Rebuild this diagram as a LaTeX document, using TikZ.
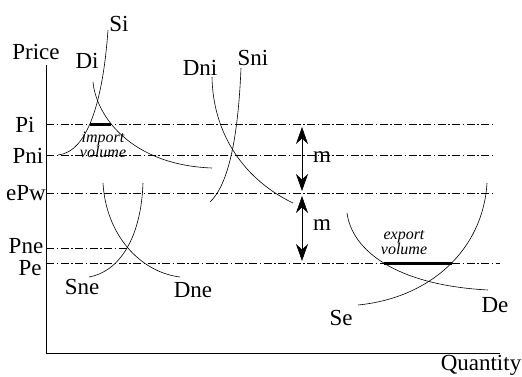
\documentclass[tikz,border=0pt]{standalone}
\usepackage{fontspec}
\setmainfont{Liberation Serif}
\usetikzlibrary{arrows.meta}

\tikzset{
  lvl/.style={line width=0.8pt, dash pattern=on 8pt off 2.5pt on 1.5pt off 2.5pt},
  curve/.style={line width=0.6pt},
  vol/.style={line width=3pt},
  lab/.style={font=\fontsize{23}{26}\selectfont, inner sep=0pt},
  note/.style={font=\fontsize{16}{16}\selectfont\itshape, align=center, inner sep=0pt},
  gap/.style={line width=0.6pt, {Stealth[length=17pt,width=12pt]}-{Stealth[length=17pt,width=12pt]}}
}

\begin{document}
\begin{tikzpicture}[x=1pt, y=-1pt]
\useasboundingbox (0,0) rectangle (522,376);

% axes
\coordinate (o) at (46,353);
\coordinate (ytop) at (46,65);
\coordinate (xend) at (500,353);
\draw[line width=0.8pt] (ytop) -- (o) -- (xend);
\node[lab] (price) at (36,52) {Price};
\node[lab] (qty) at (481,365) {Quantity};

% price levels
\draw[lvl] (46,124) -- (495,124);
\draw[lvl] (46,155) -- (495,155);
\draw[lvl] (46,193) -- (495,193);
\draw[lvl] (46,248) -- (127,248);
\draw[lvl] (46,263) -- (500,263);
\node[lab] (pi) at (25,125) {Pi};
\node[lab] (pni) at (28,156) {Pni};
\node[lab] (epw) at (26,193) {ePw};
\node[lab] (pne) at (26,246) {Pne};
\node[lab] (pe) at (30,268) {Pe};

% importer
\draw[curve] (58,155) .. controls (88,152) and (103,100) .. (108,30);
\draw[curve] (93,82) .. controls (96,115) and (130,165) .. (212,168);
\draw[vol] (90,124) -- (111,124);
\node[lab] (si) at (119,24) {Si};
\node[lab] (di) at (87,61) {Di};
\node[note] (imp) at (103,145) {import\\[-1pt]volume};

% non-importer
\draw[curve] (212,77) .. controls (213,135) and (245,180) .. (293,203);
\draw[curve] (210,202) .. controls (228,185) and (238,140) .. (241,68);
\node[lab] (dni) at (200,68) {Dni};
\node[lab] (sni) at (253,58) {Sni};

% non-exporter
\draw[curve] (103,183) .. controls (106,235) and (140,272) .. (180,277);
\draw[curve] (89,277) .. controls (118,272) and (141,240) .. (143,183);
\node[lab] (sne) at (82,287) {Sne};
\node[lab] (dne) at (193,290) {Dne};

% exporter
\draw[curve] (347,213) .. controls (352,250) and (395,285) .. (488,290);
\draw[curve] (358,305) .. controls (430,298) and (483,250) .. (487,183);
\draw[vol] (384,263) -- (452,263);
\node[lab] (se) at (341,318) {Se};
\node[lab] (de) at (495,305) {De};
\node[note] (exp) at (404,243) {export\\[-1pt]volume};

% margins
\coordinate (m1a) at (302,127);
\coordinate (m1b) at (302,191);
\coordinate (m2a) at (302,196);
\coordinate (m2b) at (302,261);
\draw[gap] (m1a) -- (m1b);
\draw[gap] (m2a) -- (m2b);
\node[lab] (m1) at (322,157) {m};
\node[lab] (m2) at (322,225) {m};
\end{tikzpicture}
\end{document}
